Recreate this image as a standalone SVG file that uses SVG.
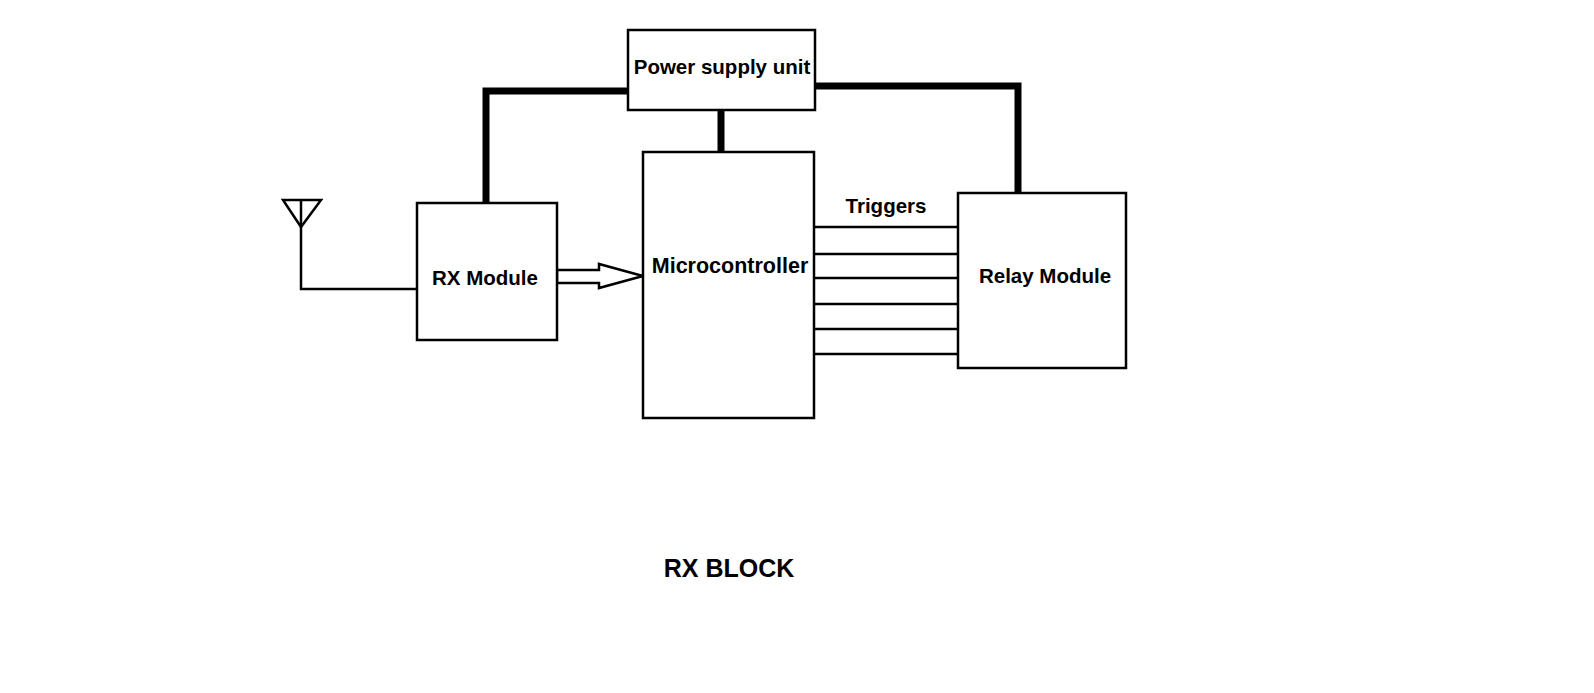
<svg xmlns="http://www.w3.org/2000/svg" width="1594" height="693" viewBox="0 0 1594 693">
<style>
.box{fill:#fff;stroke:#000;stroke-width:2.5}
.thin{fill:none;stroke:#000;stroke-width:2.5}
.thick{fill:none;stroke:#000;stroke-width:7;stroke-linejoin:miter}
.lbl{font-family:"Liberation Sans",Arial,sans-serif;font-weight:bold;font-size:20.5px;fill:#000;text-anchor:middle}
</style>
<rect width="1594" height="693" fill="#fff"/>
<g id="connectors">
<polyline class="thick" points="628,91 486,91 486,203"/>
<polyline class="thick" points="815,86 1018,86 1018,193"/>
<line class="thick" x1="721" y1="110" x2="721" y2="153"/>
<polyline class="thin" points="301,200 301,289 417,289"/>
<polygon class="thin" points="283,200 321,200 301,227"/>
<polygon class="thin" points="557,270 599,270 599,264 643,276 599,288 599,283 557,283"/>
<g class="thin">
<line x1="813" y1="227" x2="958" y2="227"/>
<line x1="813" y1="254" x2="961" y2="254"/>
<line x1="813" y1="278" x2="958" y2="278"/>
<line x1="813" y1="304" x2="958" y2="304"/>
<line x1="813" y1="329" x2="958" y2="329"/>
<line x1="812" y1="354" x2="958" y2="354"/>
</g>
<text class="lbl" x="886" y="213">Triggers</text>
</g>
<g id="power">
<rect class="box" x="628" y="30" width="187" height="80"/>
<text class="lbl" x="722" y="74">Power supply unit</text>
</g>
<g id="rx">
<rect class="box" x="417" y="203" width="140" height="137"/>
<text class="lbl" x="485" y="285">RX Module</text>
</g>
<g id="mcu">
<rect class="box" x="643" y="152" width="171" height="266"/>
<text class="lbl" x="730" y="273" style="font-size:21.5px">Microcontroller</text>
</g>
<g id="relay">
<rect class="box" x="958" y="193" width="168" height="175"/>
<text class="lbl" x="1045" y="283">Relay Module</text>
</g>
<g id="title">
<text class="lbl" x="729" y="577" style="font-size:25px">RX BLOCK</text>
</g>
</svg>
